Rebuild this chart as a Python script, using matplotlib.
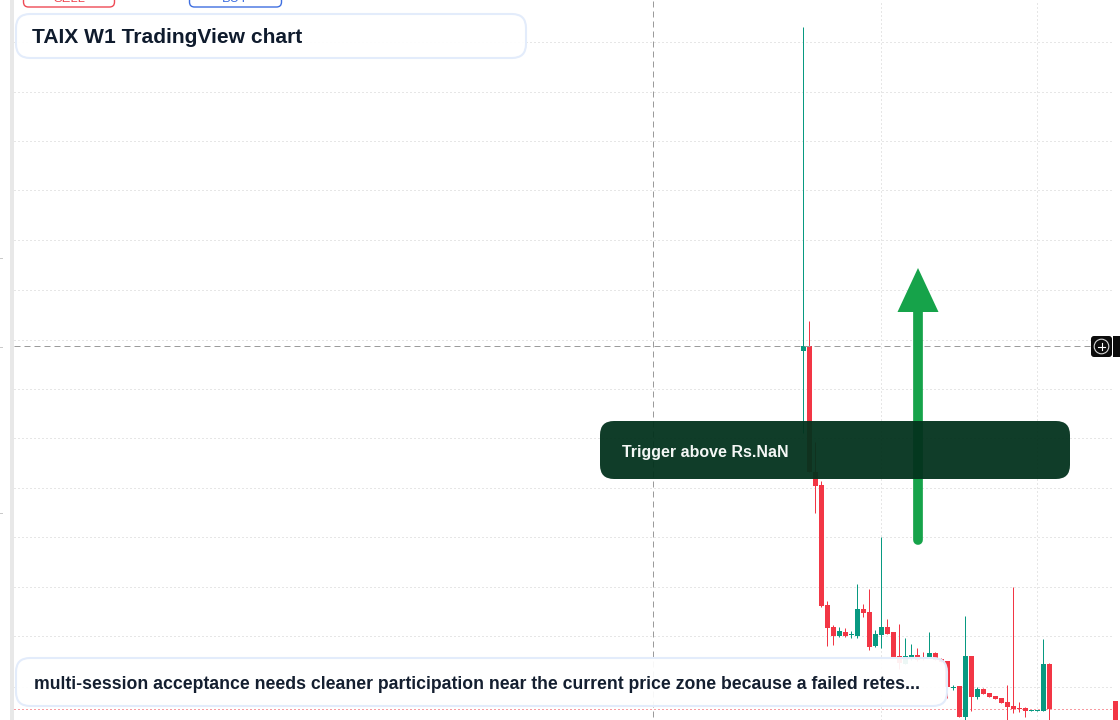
import matplotlib
matplotlib.use("Agg")
import matplotlib.pyplot as plt
from matplotlib.patches import FancyBboxPatch, Polygon, Circle, Rectangle

plt.rcParams["font.family"] = ["Liberation Sans", "DejaVu Sans"]

# Weekly candles: session index, open, high, low, close
candle_index = list(range(42)) + [52]
opens = [3.69, 3.74, 2.48, 2.35, 1.15, 0.93, 0.84, 0.88, 0.852, 0.84, 1.11, 1.08, 0.74, 0.85, 0.93,
         0.88, 0.64, 0.56, 0.62, 0.65, 0.63, 0.63, 0.67, 0.61, 0.59, 0.322, 0.34, 0.03, 0.64, 0.23,
         0.31, 0.27, 0.24, 0.22, 0.18, 0.14, 0.12, 0.12, 0.09, 0.09, 0.09, 0.56, 0.19]
closes = [3.74, 2.48, 2.34, 1.14, 0.92, 0.84, 0.89, 0.84, 0.86, 1.11, 1.07, 0.73, 0.86, 0.93, 0.86,
          0.63, 0.57, 0.64, 0.65, 0.60, 0.61, 0.67, 0.60, 0.58, 0.33, 0.33, 0.03, 0.64, 0.23, 0.31,
          0.26, 0.23, 0.21, 0.17, 0.13, 0.11, 0.11, 0.09, 0.10, 0.10, 0.56, 0.11, -0.05]
highs = [6.93, 3.99, 2.78, 2.39, 1.19, 0.95, 0.93, 0.92, 0.89, 1.36, 1.16, 1.31, 0.90, 1.83, 1.01,
         0.88, 0.96, 0.82, 0.76, 0.72, 0.68, 0.88, 0.68, 0.62, 0.59, 0.35, 0.34, 1.04, 0.64, 0.33,
         0.32, 0.27, 0.24, 0.22, 0.35, 1.33, 0.18, 0.13, 0.10, 0.10, 0.81, 0.57, 0.19]
lows = [2.87, 2.48, 2.07, 1.13, 0.74, 0.75, 0.83, 0.83, 0.82, 0.82, 1.03, 0.70, 0.73, 0.72, 0.86,
        0.63, 0.51, 0.56, 0.60, 0.59, 0.60, 0.62, 0.60, 0.58, 0.22, 0.30, 0.03, -0.05, 0.09, 0.21,
        0.26, 0.23, 0.21, 0.17, -0.05, 0.07, 0.08, 0.03, 0.09, 0.09, 0.09, -0.05, -0.05]

grid_prices = [0.335, 0.84, 1.33, 1.83, 2.32, 2.82, 3.31, 3.805, 4.30, 4.80, 5.30, 5.79, 6.28, 6.78]
grid_sessions = [13, 39]
crosshair_price = 3.74
crosshair_session = -24.92
last_price = 0.11

title_text = "TAIX W1 TradingView chart"
trigger_text = "Trigger above Rs.NaN"
note_text = "multi-session acceptance needs cleaner participation near the current price zone because a failed retes..."

UP = "#089981"
DOWN = "#f23645"
GRID = "#cfcfcf"
CROSS = "#9b9b9b"
ARROW = "#16a34a"

fig = plt.figure(figsize=(11.2, 7.2), dpi=100, facecolor="white")

# Price pane; half a pixel of session offset keeps one-pixel lines on the candle centres
ax = fig.add_axes([0, 0, 1, 1])
ax.set_xlim(-133.8333, 52.8333)
ax.set_ylim(0, 7.2)
ax.axis("off")

yaxis_tf = ax.get_yaxis_transform()
xaxis_tf = ax.get_xaxis_transform()
dot = (0, (1, 3))
ax.hlines(grid_prices, 14 / 1120, 1111 / 1120, transform=yaxis_tf, colors=GRID, lw=0.72, linestyles=[dot], zorder=1)
ax.vlines(grid_sessions, 0, 1, transform=xaxis_tf, colors=GRID, lw=0.72, linestyles=[dot], zorder=1)
ax.hlines([last_price], 14 / 1120, 1111 / 1120, transform=yaxis_tf, colors=DOWN, lw=0.72, linestyles=[dot], zorder=2)

for i, o, h, l, c in zip(candle_index, opens, highs, lows, closes):
    col = UP if c >= o else DOWN
    ax.vlines(i, l, h, colors=col, lw=0.72, zorder=3)
    ax.bar(i, abs(c - o), bottom=min(o, c), width=5 / 6, color=col, lw=0, zorder=4)

ax.hlines([crosshair_price], 14 / 1120, 1091 / 1120, transform=yaxis_tf, colors=CROSS, lw=0.72, linestyles=[(0, (6, 4))], zorder=5)
ax.vlines([crosshair_session], 0.004, 1, transform=xaxis_tf, colors=CROSS, lw=0.72, linestyles=[(0, (6, 4))], zorder=5)

# Screen-space overlay: panels, arrow and widgets
ov = fig.add_axes([0, 0, 1, 1], facecolor="none")
ov.set_xlim(0, 1120)
ov.set_ylim(720, 0)
ov.axis("off")

ov.add_patch(Rectangle((10, 0), 4, 720, fc="#e8e8e8", ec="none", zorder=1))
for ty in (258, 347, 513):
    ov.plot([0, 2], [ty, ty], color="#c8c8c8", lw=0.7, zorder=1)


def rounded(x0, y0, x1, y1, r, **kw):
    p = FancyBboxPatch((x0, y0), x1 - x0, y1 - y0, boxstyle=f"round,pad=0,rounding_size={r}", **kw)
    ov.add_patch(p)
    return p


# Order buttons running off the top edge
rounded(23.5, -20, 114.5, 7, 5, fc="white", ec="#ef4a55", lw=1.0, zorder=2)
rounded(189.5, -20, 281.5, 7, 5, fc="white", ec="#3f6fe0", lw=1.0, zorder=2)
ov.text(69, -1, "SELL", color="#ef4a55", fontsize=9.4, ha="center", va="center", zorder=3, clip_on=True)
ov.text(235, -1, "BUY", color="#3f6fe0", fontsize=9.4, ha="center", va="center", zorder=3, clip_on=True)

# Upward arrow
ov.plot([918, 918], [305, 539.5], color=ARROW, lw=7.0, solid_capstyle="round", zorder=4)
ov.add_patch(Polygon([(918, 268), (938.5, 312), (897.5, 312)], closed=True, fc=ARROW, ec="none", zorder=4))

# Crosshair plus button and adjacent label stub
rounded(1091, 336, 1112, 357, 3, fc="#0c0c0c", ec="none", zorder=4)
ov.add_patch(Rectangle((1113, 336), 7, 21, fc="#0c0c0c", ec="none", zorder=4))
ov.add_patch(Circle((1101.5, 346.5), 7.3, fc="none", ec="#d8d8d8", lw=0.8, zorder=5))
ov.plot([1097.8, 1105.2], [346.5, 346.5], color="white", lw=0.8, zorder=5)
ov.plot([1101.5, 1101.5], [342.8, 350.2], color="white", lw=0.8, zorder=5)

# Title, trigger banner, note card
rounded(16, 14, 526, 58, 14, fc=(1, 1, 1, 0.95), ec="#e3ecfb", lw=1.5, zorder=6)
ov.text(32, 35.5, title_text, fontsize=15.15, fontweight="bold", color="#0f1b2d", va="center_baseline", zorder=7)

rounded(600, 421, 1070, 479, 14, fc=(0.012, 0.196, 0.114, 0.95), ec="none", zorder=6)
ov.text(622, 451, trigger_text, fontsize=11.5, fontweight="bold", color="#f4f7f5", va="center_baseline", zorder=7)

rounded(16, 658, 947, 706, 14, fc=(1, 1, 1, 0.93), ec="#e3ecfb", lw=1.5, zorder=6)
ov.text(34, 682.5, note_text, fontsize=12.72, fontweight="bold", color="#141f30", va="center_baseline", zorder=7)

fig.savefig("out.png", dpi=100)
